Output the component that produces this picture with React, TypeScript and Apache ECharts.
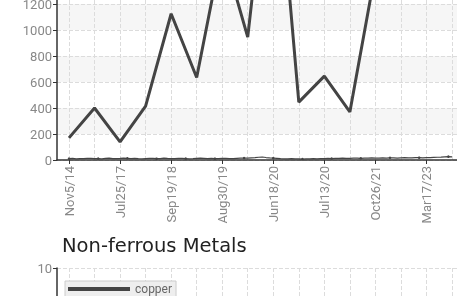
import React, { useEffect, useRef } from "react";
import * as echarts from "echarts";

const dates = [
  "Nov5/14", "Mar3/16", "Jul25/17", "Feb8/18", "Sep19/18", "Mar14/19", "Aug30/19", "Jan22/20",
  "Jun18/20", "Jun29/20", "Jul13/20", "Mar4/21", "Oct26/21", "Jun9/22", "Mar17/23", "Aug2/23",
];
const mainValues = [170, 400, 140, 415, 1125, 635, 1630, 945, 2700, 445, 645, 370, 1450, 2100, 2600, 2400];
const minorValues = [
  10, 12, 9, 11, 10, 13, 12, 10, 11, 9, 12, 14, 11, 10,
  12, 15, 13, 11, 12, 10, 9, 11, 13, 12, 10, 11, 14, 12,
  11, 10, 12, 13, 11, 9, 10, 12, 14, 13, 11, 12, 10, 11,
  13, 12, 11, 10, 12, 14, 15, 14, 16, 18, 21, 23, 19, 16,
  14, 12, 10, 9, 8, 10, 9, 8, 7, 9, 8, 10, 9, 11,
  10, 12, 11, 13, 12, 14, 13, 12, 15, 14, 13, 15, 14, 16,
  15, 14, 16, 15, 17, 16, 15, 17, 18, 16, 17, 19, 18, 17,
  18, 19, 20, 21, 22, 24, 26, 24,
];
const minorIndex = minorValues.map((_, i) => String(i));
const copperValues = [3.0, 2.2, 2.7, 3.1, 2.8, 2.9, 2.6, 2.8, 2.6, 2.7, 2.9, 4.0, 4.4, 3.9, 4.1, 3.8];
const mainTicks = { min: 0, max: 2800, interval: 200 };
const copperTicks = { min: 0, max: 10, interval: 2 };
const chartTitle = "Non-ferrous Metals";

const GRID_LINE = { show: true, lineStyle: { color: "#dcdcdc", type: "dashed" as const, width: 1 } };
const LABEL = { fontFamily: "Roboto", fontSize: 13, color: "#888" };

export default function App() {
  const ref = useRef<HTMLDivElement>(null);
  useEffect(() => {
    if (!ref.current) return;
    const chart = echarts.init(ref.current, undefined, { renderer: "svg" });
    const visibleY = (gridIndex: number, t: { min: number; max: number; interval: number }) => ({
      type: "value" as const,
      gridIndex,
      min: t.min,
      max: t.max,
      interval: t.interval,
      axisLine: { show: true, lineStyle: { color: "#333", width: 1.5 } },
      axisTick: { show: true, length: 4, lineStyle: { color: "#333" } },
      axisLabel: { ...LABEL, margin: 5, formatter: (v: number) => String(v) },
      splitLine: GRID_LINE,
      splitArea: { show: true, areaStyle: { color: ["#ffffff", "#f6f6f6"] } },
    });
    const hiddenY = (gridIndex: number, t: { min: number; max: number; interval: number }) => ({
      type: "value" as const,
      gridIndex,
      min: t.min,
      max: t.max,
      interval: t.interval,
      show: false,
      splitLine: { show: false },
    });
    const dateAxis = (gridIndex: number) => ({
      type: "category" as const,
      gridIndex,
      data: dates,
      boundaryGap: false,
      axisLine: { show: false },
      axisTick: { show: true, interval: 1, length: 4, lineStyle: { color: "#333" } },
      axisLabel: { ...LABEL, rotate: 90, interval: 1, margin: 6 },
      splitLine: { ...GRID_LINE, interval: 0 },
    });
    const gridBase = { containLabel: false, outerBoundsMode: "none" };
    chart.setOption({
      animation: false,
      title: {
        text: chartTitle,
        left: 62,
        top: 235,
        padding: 0,
        textStyle: { fontFamily: "DejaVu Sans", fontSize: 19.5, fontWeight: "normal", color: "#222" },
      },
      legend: {
        data: ["copper"],
        left: 65,
        top: 281,
        padding: [2, 4, 2, 3],
        icon: "rect",
        itemWidth: 62,
        itemHeight: 4,
        backgroundColor: "#eeeeee",
        borderColor: "#cccccc",
        borderWidth: 1,
        textStyle: { fontFamily: "Roboto", fontSize: 12, color: "#666" },
      },
      grid: [
        { ...gridBase, left: 57, right: -20, top: -204, height: 364 },
        { ...gridBase, left: 69, right: 5, top: -204, height: 364 },
        { ...gridBase, left: 57, right: -20, top: 268, height: 200 },
        { ...gridBase, left: 69, right: 5, top: 268, height: 200 },
      ],
      xAxis: [
        {
          type: "value", gridIndex: 0, min: 0, max: 1,
          axisLine: { show: true, onZero: false, lineStyle: { color: "#333", width: 1.5 } },
          axisTick: { show: false }, axisLabel: { show: false }, splitLine: { show: false },
        },
        dateAxis(1),
        { type: "category", gridIndex: 1, data: minorIndex, boundaryGap: false, show: false },
        {
          type: "value", gridIndex: 2, min: 0, max: 1,
          axisLine: { show: true, onZero: false, lineStyle: { color: "#333", width: 1.5 } },
          axisTick: { show: false }, axisLabel: { show: false }, splitLine: { show: false },
        },
        dateAxis(3),
      ],
      yAxis: [
        visibleY(0, mainTicks),
        hiddenY(1, mainTicks),
        visibleY(2, copperTicks),
        hiddenY(3, copperTicks),
      ],
      series: [
        {
          name: "index",
          type: "line",
          xAxisIndex: 1,
          yAxisIndex: 1,
          data: mainValues,
          symbol: "none",
          lineStyle: { color: "#444", width: 3 },
          itemStyle: { color: "#444" },
        },
        {
          name: "spot",
          type: "line",
          xAxisIndex: 2,
          yAxisIndex: 1,
          data: minorValues,
          symbol: "circle",
          symbolSize: 2.5,
          lineStyle: { color: "#444", width: 1.2 },
          itemStyle: { color: "#444" },
        },
        {
          name: "copper",
          type: "line",
          xAxisIndex: 4,
          yAxisIndex: 3,
          data: copperValues,
          symbol: "none",
          lineStyle: { color: "#444", width: 4 },
          itemStyle: { color: "#444" },
        },
      ],
    });
    return () => chart.dispose();
  }, []);
  return <div ref={ref} style={{ position: "fixed", left: 0, top: 0, width: 457, height: 296 }} />;
}
